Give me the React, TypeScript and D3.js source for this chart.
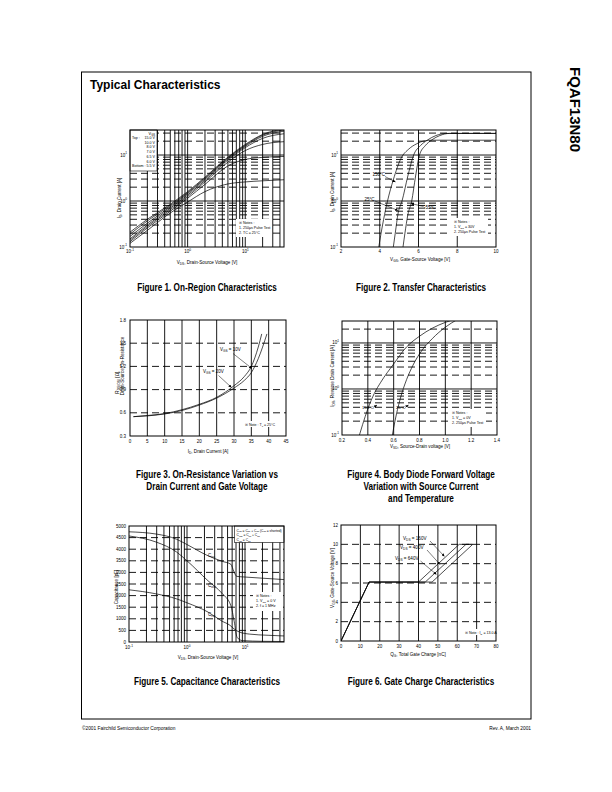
import React from 'react';
import * as d3 from 'd3';

const FONT = "'Liberation Sans', Arial, Helvetica, sans-serif";

// ---------- Figure 1: On-Region Characteristics ----------
const f1Vds = [0.1, 0.2, 0.5, 1, 2, 5, 10, 20, 47];
const f1Id15 = [0.21, 0.40, 0.85, 1.6, 3.3, 9.0, 17, 28, 37];
const f1Id10 = [0.19, 0.37, 0.80, 1.52, 3.15, 8.7, 16.3, 27, 35];
const f1Id8 = [0.17, 0.33, 0.75, 1.45, 3.0, 8.3, 15.5, 25.5, 33];
const f1Id7 = [0.15, 0.30, 0.70, 1.35, 2.8, 7.8, 14.5, 23, 29];
const f1Id65 = [0.14, 0.28, 0.65, 1.25, 2.6, 7.0, 12.5, 17, 19.5];
const f1Id6 = [0.13, 0.26, 0.60, 1.15, 2.3, 5.8, 8.0, 8.9, 9.3];
const f1Id55 = [0.12, 0.23, 0.55, 0.95, 1.6, 2.35, 2.6, 2.75, 2.9];
const f1Series = [f1Id15, f1Id10, f1Id8, f1Id7, f1Id65, f1Id6, f1Id55];
const f1Legend = ['15.0 V', '10.0 V', '8.0 V', '7.0 V', '6.5 V', '6.0 V', '5.5 V'];

// ---------- Figure 2: Transfer Characteristics ----------
const f2Vgs150 = [3.95, 4.05, 4.2, 4.4, 4.7, 5.1, 5.5, 5.9, 6.3, 6.7, 10];
const f2Id150 = [0.1, 0.18, 0.4, 1.0, 2.9, 8.5, 13.5, 17.5, 20.3, 21, 21];
const f2Vgs25 = [4.7, 4.8, 4.95, 5.15, 5.45, 5.75, 6.1, 6.45, 6.9, 7.4, 10];
const f2Id25 = [0.1, 0.2, 0.55, 1.0, 3.5, 10, 16, 21, 26.5, 29.5, 29.5];
const f2VgsM55 = [5.2, 5.3, 5.45, 5.65, 5.85, 6.05, 6.35, 6.7, 7.1, 7.6, 10];
const f2IdM55 = [0.1, 0.2, 0.5, 1.0, 3.5, 10, 16, 21.5, 26.5, 29.5, 29.5];
const f2XTicks = [2, 4, 6, 8, 10];

// ---------- Figure 3: On-Resistance ----------
const f3Id10 = [1, 5, 10, 15, 20, 25, 30, 33, 35, 37, 38];
const f3R10 = [0.55, 0.565, 0.59, 0.64, 0.71, 0.80, 0.95, 1.07, 1.2, 1.45, 1.62];
const f3Id20 = [1, 5, 10, 15, 20, 25, 30, 33, 35, 37, 39.5];
const f3R20 = [0.55, 0.56, 0.585, 0.63, 0.70, 0.79, 0.92, 1.02, 1.12, 1.3, 1.62];
const f3XTicks = [0, 5, 10, 15, 20, 25, 30, 35, 40, 45];
const f3YTicks = [0.3, 0.6, 0.9, 1.2, 1.5, 1.8];

// ---------- Figure 4: Body Diode ----------
const f4Vsd150 = [0.335, 0.36, 0.4, 0.45, 0.5, 0.6, 0.7, 0.8, 0.9, 1.0, 1.06];
const f4Id150 = [0.1, 0.17, 0.37, 0.8, 1.4, 3.5, 8.2, 14, 21, 28, 32];
const f4Vsd25 = [0.59, 0.61, 0.65, 0.7, 0.75, 0.8, 0.9, 1.0, 1.09];
const f4Id25 = [0.1, 0.2, 0.6, 1.6, 3.3, 5.8, 12.5, 22, 32];
const f4XTicks = [0.2, 0.4, 0.6, 0.8, 1.0, 1.2, 1.4];

// ---------- Figure 5: Capacitance ----------
const f5VdsCiss = [0.1, 0.3, 0.66, 1, 2.2, 4, 5.7, 6.4, 7.2, 10, 20, 47];
const f5Ciss = [4750, 4650, 4430, 4200, 3740, 3480, 3350, 3050, 2830, 2800, 2750, 2690];
const f5VdsCoss = [0.1, 0.3, 0.66, 1, 2.3, 4, 5.7, 6.5, 7.3, 9, 20, 47];
const f5Coss = [4570, 4300, 3880, 3500, 2640, 2100, 1570, 900, 200, 60, 30, 20];
const f5VdsCrss = [0.1, 0.3, 0.66, 1, 2.3, 4, 5.5, 6.5, 8, 12, 25, 47];
const f5Crss = [2250, 2070, 1860, 1690, 1290, 900, 720, 560, 430, 340, 290, 260];
const f5YTicks = [0, 500, 1000, 1500, 2000, 2500, 3000, 3500, 4000, 4500, 5000];

// ---------- Figure 6: Gate Charge ----------
const f6Q160 = [0, 14.5, 40, 61, 68];
const f6V160 = [0, 6.1, 6.1, 10, 10];
const f6Q400 = [0, 14.5, 43.5, 64.5, 68];
const f6V400 = [0, 6.1, 6.1, 10, 10];
const f6Q640 = [0, 14.5, 47, 68];
const f6V640 = [0, 6.1, 6.1, 10];
const f6XTicks = [0, 10, 20, 30, 40, 50, 60, 70, 80];
const f6YTicks = [0, 2, 4, 6, 8, 10, 12];

type Part = [string, string?];
function rich(parts: Part[], fs: number) {
  let cur = 0;
  return parts.map(([t, k = 'n'], i) => {
    const target = k === 'sub' ? fs * 0.3 : k === 'sup' ? -fs * 0.45 : 0;
    const dy = target - cur;
    cur = target;
    return (
      <tspan key={i} dy={dy} fontSize={k === 'n' ? fs : fs * 0.7}>
        {t}
      </tspan>
    );
  });
}

const isDec = (v: number) => Math.abs(Math.log10(v) - Math.round(Math.log10(v))) < 1e-6;
const DASH = '7,4';

function Grid({ xs, ys, vt, ht, vDash, hDash, b }: any) {
  return (
    <g stroke="#000" strokeWidth={0.9} fill="none">
      {vt.map((v: number, i: number) => {
        const x = xs(v);
        if (x <= b.x0 + 0.5 || x >= b.x1 - 0.5) return null;
        return <line key={'v' + i} x1={x} x2={x} y1={b.y0} y2={b.y1} strokeDasharray={vDash(v) ? DASH : undefined} />;
      })}
      {ht.map((v: number, i: number) => {
        const y = ys(v);
        if (y <= b.y0 + 0.5 || y >= b.y1 - 0.5) return null;
        return <line key={'h' + i} x1={b.x0} x2={b.x1} y1={y} y2={y} strokeDasharray={hDash(v) ? DASH : undefined} />;
      })}
    </g>
  );
}

function Frame({ b }: any) {
  return <rect x={b.x0} y={b.y0} width={b.x1 - b.x0} height={b.y1 - b.y0} fill="none" stroke="#000" strokeWidth={1} />;
}

function Curve({ xs, ys, xv, yv, clip, curve = d3.curveMonotoneX, w = 0.7 }: any) {
  const pts: [number, number][] = xv.map((x: number, i: number) => [xs(x), ys(yv[i])]);
  const d = d3.line<[number, number]>().x((p) => p[0]).y((p) => p[1]).curve(curve)(pts) || '';
  return <path d={d} fill="none" stroke="#000" strokeWidth={w} clipPath={`url(#${clip})`} />;
}

function ClipDef({ id, b }: any) {
  return (
    <clipPath id={id}>
      <rect x={b.x0} y={b.y0} width={b.x1 - b.x0} height={b.y1 - b.y0} />
    </clipPath>
  );
}

function NoteBox({ x, y, w, h, lines, fs = 3.6 }: any) {
  return (
    <g>
      <rect x={x} y={y} width={w} height={h} fill="#fff" />
      {lines.map((l: any, i: number) => (
        <text key={i} x={x + 3} y={y + 5 + i * 4.8} fontSize={fs}>
          {l}
        </text>
      ))}
    </g>
  );
}

function Arrow({ x1, y1, x2, y2 }: any) {
  return <line x1={x1} y1={y1} x2={x2} y2={y2} stroke="#000" strokeWidth={0.5} markerEnd="url(#ah)" />;
}

const TFS = 4.5; // tick font
const AFS = 4.6; // axis title font

function Fig1() {
  const b = { x0: 130, x1: 284, y0: 130, y1: 247 };
  const xs = d3.scaleLog().domain([0.1, 47]).range([b.x0, b.x1]);
  const ys = d3.scaleLog().domain([0.1, 35]).range([b.y1, b.y0]);
  return (
    <g>
      <defs><ClipDef id="c1" b={b} /></defs>
      <Grid xs={xs} ys={ys} vt={xs.ticks()} ht={ys.ticks()} vDash={() => false} hDash={(v: number) => !isDec(v)} b={b} />
      {f1Series.map((s, i) => (
        <Curve key={i} xs={xs} ys={ys} xv={f1Vds} yv={s} clip="c1" />
      ))}
      <rect x={b.x0} y={b.y0} width={27} height={41} fill="#fff" stroke="#000" strokeWidth={0.6} />
      <text x={155} y={134.5} fontSize={3.8} textAnchor="end">{rich([['V'], ['GS', 'sub']], 3.8)}</text>
      {f1Legend.map((l, i) => (
        <text key={i} x={155} y={139 + i * 4.7} fontSize={3.6} textAnchor="end">{l}</text>
      ))}
      <text x={132} y={139} fontSize={3.6}>Top :</text>
      <text x={132} y={139 + 6 * 4.7} fontSize={3.6}>Bottom :</text>
      <NoteBox x={236} y={219} w={36} h={18} lines={['※ Notes :', '1. 250μs Pulse Test', '2. TC = 25°C']} />
      <Frame b={b} />
      {[0.1, 1, 10].map((v, i) => (
        <text key={i} x={xs(v)} y={253} fontSize={TFS} textAnchor="middle">{rich([['10'], [String(i - 1), 'sup']], TFS)}</text>
      ))}
      {[0.1, 1, 10].map((v, i) => (
        <text key={i} x={b.x0 - 3} y={ys(v) + 1.5} fontSize={TFS} textAnchor="end">{rich([['10'], [String(i - 1), 'sup']], TFS)}</text>
      ))}
      <text x={207} y={264} fontSize={AFS} textAnchor="middle">{rich([['V'], ['DS', 'sub'], [', Drain-Source Voltage [V]']], AFS)}</text>
      <text transform="translate(120.5,198) rotate(-90)" fontSize={AFS} textAnchor="middle">{rich([['I'], ['D', 'sub'], [', Drain Current [A]']], AFS)}</text>
    </g>
  );
}

function Fig2() {
  const b = { x0: 341, x1: 496, y0: 130, y1: 247 };
  const xs = d3.scaleLinear().domain([2, 10]).range([b.x0, b.x1]);
  const ys = d3.scaleLog().domain([0.1, 35]).range([b.y1, b.y0]);
  return (
    <g>
      <defs><ClipDef id="c2" b={b} /></defs>
      <Grid xs={xs} ys={ys} vt={f2XTicks} ht={ys.ticks()} vDash={() => false} hDash={(v: number) => !isDec(v)} b={b} />
      <Curve xs={xs} ys={ys} xv={f2Vgs150} yv={f2Id150} clip="c2" />
      <Curve xs={xs} ys={ys} xv={f2Vgs25} yv={f2Id25} clip="c2" />
      <Curve xs={xs} ys={ys} xv={f2VgsM55} yv={f2IdM55} clip="c2" />
      <text x={372.5} y={176} fontSize={4.5}>150°C</text>
      <Arrow x1={385} y1={176.5} x2={395.5} y2={182} />
      <text x={364.5} y={200.5} fontSize={4.5}>25°C</text>
      <Arrow x1={375} y1={201} x2={398} y2={210.5} />
      <text x={424} y={208.5} fontSize={4.5}>-55°C</text>
      <Arrow x1={423.5} y1={206.5} x2={411} y2={203.5} />
      <NoteBox x={451} y={218} w={37} h={18} lines={['※ Notes :', rich([['1. V'], ['DS', 'sub'], [' = 30V']], 3.6), '2. 250μs Pulse Test']} />
      <Frame b={b} />
      {f2XTicks.map((v, i) => (
        <text key={i} x={xs(v)} y={253} fontSize={TFS} textAnchor="middle">{v}</text>
      ))}
      {[0.1, 1, 10].map((v, i) => (
        <text key={i} x={b.x0 - 3} y={ys(v) + 1.5} fontSize={TFS} textAnchor="end">{rich([['10'], [String(i - 1), 'sup']], TFS)}</text>
      ))}
      <text x={420} y={261} fontSize={AFS} textAnchor="middle">{rich([['V'], ['GS', 'sub'], [', Gate-Source Voltage [V]']], AFS)}</text>
      <text transform="translate(334,192) rotate(-90)" fontSize={AFS} textAnchor="middle">{rich([['I'], ['D', 'sub'], [', Drain Current [A]']], AFS)}</text>
    </g>
  );
}

function Fig3() {
  const b = { x0: 130, x1: 286, y0: 320, y1: 436 };
  const xs = d3.scaleLinear().domain([0, 45]).range([b.x0, b.x1]);
  const ys = d3.scaleLinear().domain([0.3, 1.8]).range([b.y1, b.y0]);
  return (
    <g>
      <defs><ClipDef id="c3" b={b} /></defs>
      <Grid xs={xs} ys={ys} vt={f3XTicks} ht={f3YTicks} vDash={() => false} hDash={() => true} b={b} />
      <Curve xs={xs} ys={ys} xv={f3Id10} yv={f3R10} clip="c3" />
      <Curve xs={xs} ys={ys} xv={f3Id20} yv={f3R20} clip="c3" />
      <text x={220} y={350.5} fontSize={4.5}>{rich([['V'], ['GS', 'sub'], [' = 10V']], 4.5)}</text>
      <Arrow x1={233} y1={353.5} x2={252} y2={368.5} />
      <text x={203} y={373} fontSize={4.5}>{rich([['V'], ['GS', 'sub'], [' = 20V']], 4.5)}</text>
      <Arrow x1={218.5} y1={375.5} x2={231.5} y2={387.5} />
      <rect x={243} y={421} width={32} height={6} fill="#fff" />
      <text x={245} y={425.5} fontSize={3.6}>{rich([['※ Note : T'], ['J', 'sub'], [' = 25°C']], 3.6)}</text>
      <Frame b={b} />
      {f3XTicks.map((v, i) => (
        <text key={i} x={xs(v)} y={443} fontSize={TFS} textAnchor="middle">{v}</text>
      ))}
      {f3YTicks.map((v, i) => (
        <text key={i} x={b.x0 - 4} y={ys(v) + 1.5} fontSize={TFS} textAnchor="end">{v.toFixed(1)}</text>
      ))}
      <text x={208} y={453} fontSize={AFS} textAnchor="middle">{rich([['I'], ['D', 'sub'], [', Drain Current [A]']], AFS)}</text>
      <text transform="translate(118.5,382) rotate(-90)" fontSize={AFS} textAnchor="middle">{rich([['R'], ['DS(ON)', 'sub'], [' [Ω],']], AFS)}</text>
      <text transform="translate(123.5,366) rotate(-90)" fontSize={AFS} textAnchor="middle">Drain-Source On-Resistance</text>
    </g>
  );
}

function Fig4() {
  const b = { x0: 342, x1: 497, y0: 321, y1: 435 };
  const xs = d3.scaleLinear().domain([0.2, 1.4]).range([b.x0, b.x1]);
  const ys = d3.scaleLog().domain([0.1, 30]).range([b.y1, b.y0]);
  return (
    <g>
      <defs><ClipDef id="c4" b={b} /></defs>
      <Grid xs={xs} ys={ys} vt={f4XTicks} ht={ys.ticks()} vDash={() => false} hDash={(v: number) => !isDec(v)} b={b} />
      <Curve xs={xs} ys={ys} xv={f4Vsd150} yv={f4Id150} clip="c4" />
      <Curve xs={xs} ys={ys} xv={f4Vsd25} yv={f4Id25} clip="c4" />
      <text x={362} y={408.5} fontSize={4.2}>150°C</text>
      <Arrow x1={373.5} y1={407.5} x2={377} y2={405} />
      <text x={396} y={408.5} fontSize={4.2}>25°C</text>
      <Arrow x1={405} y1={407.5} x2={408.5} y2={405} />
      <NoteBox x={449} y={409} w={37} h={18} lines={['※ Notes :', rich([['1. V'], ['GS', 'sub'], [' = 0V']], 3.6), '2. 250μs Pulse Test']} />
      <Frame b={b} />
      {f4XTicks.map((v, i) => (
        <text key={i} x={xs(v)} y={441.5} fontSize={TFS} textAnchor="middle">{v.toFixed(1)}</text>
      ))}
      {[0.1, 1, 10].map((v, i) => (
        <text key={i} x={b.x0 - 3} y={ys(v) + 1.5} fontSize={TFS} textAnchor="end">{rich([['10'], [String(i - 1), 'sup']], TFS)}</text>
      ))}
      <text x={420} y={448} fontSize={AFS} textAnchor="middle">{rich([['V'], ['SD', 'sub'], [', Source-Drain voltage [V]']], AFS)}</text>
      <text transform="translate(334,376) rotate(-90)" fontSize={AFS} textAnchor="middle">{rich([['I'], ['DR', 'sub'], [', Reverse Drain Current [A]']], AFS)}</text>
    </g>
  );
}

function Fig5() {
  const b = { x0: 129, x1: 284, y0: 526, y1: 642 };
  const xs = d3.scaleLog().domain([0.1, 47]).range([b.x0, b.x1]);
  const ys = d3.scaleLinear().domain([0, 5000]).range([b.y1, b.y0]);
  return (
    <g>
      <defs><ClipDef id="c5" b={b} /></defs>
      <Grid xs={xs} ys={ys} vt={xs.ticks()} ht={f5YTicks} vDash={() => false} hDash={() => true} b={b} />
      <Curve xs={xs} ys={ys} xv={f5VdsCiss} yv={f5Ciss} clip="c5" />
      <Curve xs={xs} ys={ys} xv={f5VdsCoss} yv={f5Coss} clip="c5" />
      <Curve xs={xs} ys={ys} xv={f5VdsCrss} yv={f5Crss} clip="c5" />
      <text x={208} y={556.5} fontSize={4.5}>{rich([['C'], ['iss', 'sub']], 4.5)}</text>
      <text x={208} y={587} fontSize={4.5}>{rich([['C'], ['oss', 'sub']], 4.5)}</text>
      <text x={208} y={615.5} fontSize={4.5}>{rich([['C'], ['rss', 'sub']], 4.5)}</text>
      <rect x={234.5} y={b.y0} width={b.x1 - 234.5} height={16.5} fill="#fff" stroke="#000" strokeWidth={0.6} />
      <text x={236.5} y={531.5} fontSize={3.3}>{rich([['C'], ['iss', 'sub'], [' = C'], ['gs', 'sub'], [' + C'], ['gd', 'sub'], [' (C'], ['ds', 'sub'], [' = shorted)']], 3.3)}</text>
      <text x={236.5} y={536.3} fontSize={3.3}>{rich([['C'], ['oss', 'sub'], [' = C'], ['ds', 'sub'], [' + C'], ['gd', 'sub']], 3.3)}</text>
      <text x={236.5} y={541} fontSize={3.3}>{rich([['C'], ['rss', 'sub'], [' = C'], ['gd', 'sub']], 3.3)}</text>
      <NoteBox x={253} y={592} w={28} h={19} lines={['※ Notes :', rich([['1. V'], ['GS', 'sub'], [' = 0 V']], 3.6), '2. f = 1 MHz']} />
      <Frame b={b} />
      {[0.1, 1, 10].map((v, i) => (
        <text key={i} x={xs(v)} y={649} fontSize={TFS} textAnchor="middle">{rich([['10'], [String(i - 1), 'sup']], TFS)}</text>
      ))}
      {f5YTicks.map((v, i) => (
        <text key={i} x={b.x0 - 3} y={ys(v) + 1.5} fontSize={TFS} textAnchor="end">{v}</text>
      ))}
      <text x={208} y={659} fontSize={AFS} textAnchor="middle">{rich([['V'], ['DS', 'sub'], [', Drain-Source Voltage [V]']], AFS)}</text>
      <text transform="translate(117.5,587) rotate(-90)" fontSize={AFS} textAnchor="middle">Capacitance [pF]</text>
    </g>
  );
}

function Fig6() {
  const b = { x0: 341, x1: 496, y0: 525, y1: 641 };
  const xs = d3.scaleLinear().domain([0, 80]).range([b.x0, b.x1]);
  const ys = d3.scaleLinear().domain([0, 12]).range([b.y1, b.y0]);
  return (
    <g>
      <defs><ClipDef id="c6" b={b} /></defs>
      <Grid xs={xs} ys={ys} vt={f6XTicks} ht={f6YTicks} vDash={() => false} hDash={() => true} b={b} />
      <Curve xs={xs} ys={ys} xv={f6Q160} yv={f6V160} clip="c6" curve={d3.curveLinear} />
      <Curve xs={xs} ys={ys} xv={f6Q400} yv={f6V400} clip="c6" curve={d3.curveLinear} />
      <Curve xs={xs} ys={ys} xv={f6Q640} yv={f6V640} clip="c6" curve={d3.curveLinear} />
      <text x={403} y={539.5} fontSize={4.6}>{rich([['V'], ['DS', 'sub'], [' = 160V']], 4.6)}</text>
      <Arrow x1={430} y1={541} x2={444.5} y2={556.5} />
      <text x={400} y={548.5} fontSize={4.6}>{rich([['V'], ['DS', 'sub'], [' = 400V']], 4.6)}</text>
      <Arrow x1={427} y1={550} x2={440} y2={564.5} />
      <text x={395} y={559.5} fontSize={4.6}>{rich([['V'], ['DS', 'sub'], [' = 640V']], 4.6)}</text>
      <Arrow x1={420.5} y1={561} x2={436.5} y2={574.5} />
      <rect x={464} y={629} width={30} height={6} fill="#fff" />
      <text x={465} y={633.5} fontSize={3.6}>{rich([['※ Note : I'], ['D', 'sub'], [' = 13.0 A']], 3.6)}</text>
      <Frame b={b} />
      {f6XTicks.map((v, i) => (
        <text key={i} x={xs(v)} y={648} fontSize={TFS} textAnchor="middle">{v}</text>
      ))}
      {f6YTicks.map((v, i) => (
        <text key={i} x={b.x0 - 3} y={ys(v) + 1.5} fontSize={TFS} textAnchor="end">{v}</text>
      ))}
      <text x={418} y={656} fontSize={AFS} textAnchor="middle">{rich([['Q'], ['G', 'sub'], [', Total Gate Charge [nC]']], AFS)}</text>
      <text transform="translate(334,578) rotate(-90)" fontSize={AFS} textAnchor="middle">{rich([['V'], ['GS', 'sub'], [', Gate-Source Voltage [V]']], AFS)}</text>
    </g>
  );
}

function Caption({ cx, y, text }: any) {
  return (
    <text transform={`translate(${cx},${y}) scale(0.82,1)`} textAnchor="middle" fontSize={10} fontWeight="bold">
      {text}
    </text>
  );
}

export default function App() {
  return (
    <svg width={612} height={792} viewBox="0 0 612 792" style={{ position: 'absolute', left: 0, top: 0, background: '#fff' }} fontFamily={FONT}>
      <defs>
        <marker id="ah" viewBox="0 0 6 6" refX="6" refY="3" markerWidth="3" markerHeight="3" markerUnits="userSpaceOnUse" orient="auto">
          <path d="M0,0 L6,3 L0,6 z" fill="#000" />
        </marker>
      </defs>
      <rect x={0} y={0} width={612} height={792} fill="#fff" />
      <rect x={81.5} y={72} width={449.5} height={647} fill="none" stroke="#000" strokeWidth={1} />
      <text x={90} y={88.5} fontSize={12} fontWeight="bold">Typical Characteristics</text>
      <text transform="translate(569.5,67) rotate(90)" fontSize={15} fontWeight="bold">FQAF13N80</text>
      <Fig1 />
      <Fig2 />
      <Fig3 />
      <Fig4 />
      <Fig5 />
      <Fig6 />
      <Caption cx={207} y={291} text="Figure 1. On-Region Characteristics" />
      <Caption cx={421} y={291} text="Figure 2. Transfer Characteristics" />
      <Caption cx={207} y={477.5} text="Figure 3. On-Resistance Variation  vs" />
      <Caption cx={207} y={489.5} text="Drain Current and Gate Voltage" />
      <Caption cx={421} y={477.5} text="Figure 4. Body Diode Forward Voltage" />
      <Caption cx={421} y={489.5} text="Variation with Source Current" />
      <Caption cx={421} y={501.5} text="and Temperature" />
      <Caption cx={207} y={685} text="Figure 5. Capacitance Characteristics" />
      <Caption cx={421} y={685} text="Figure 6. Gate Charge Characteristics" />
      <text x={82} y={730} fontSize={4.8}>©2001 Fairchild Semiconductor Corporation</text>
      <text x={531} y={730} fontSize={4.8} textAnchor="end">Rev. A, March 2001</text>
    </svg>
  );
}
